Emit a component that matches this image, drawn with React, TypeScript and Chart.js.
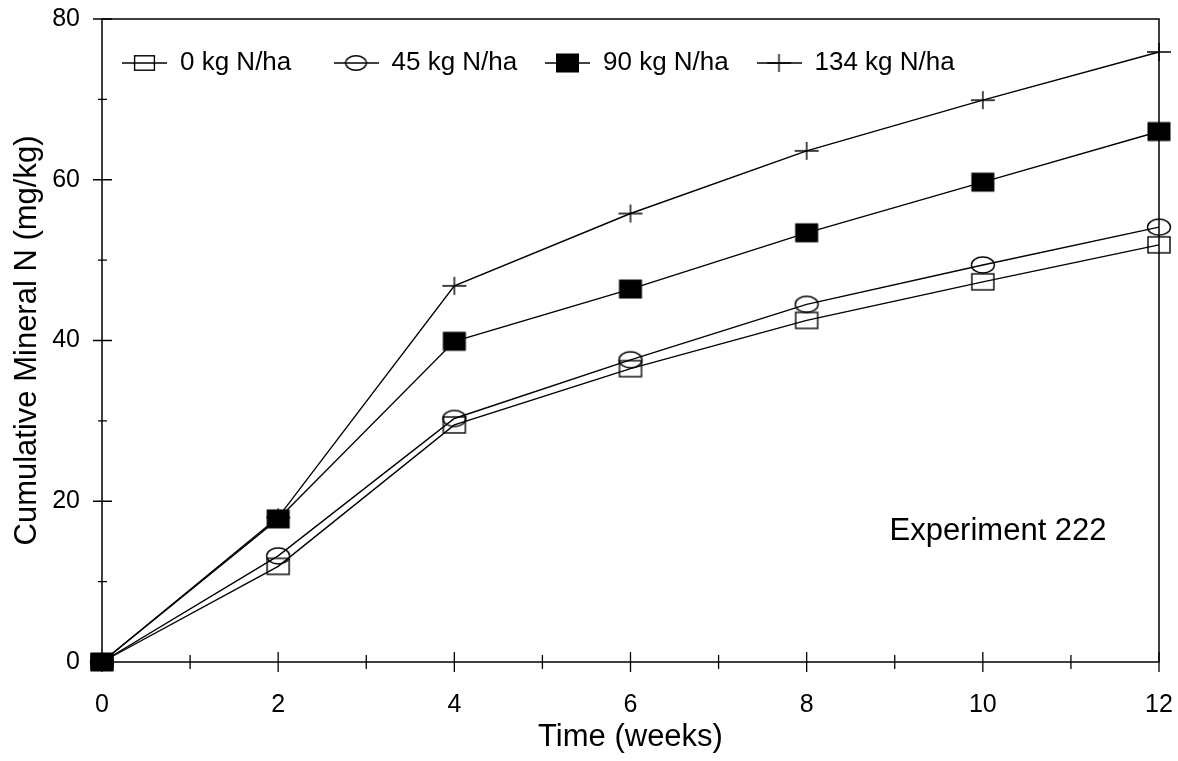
import { useEffect, useRef } from 'react';
import { Chart, registerables } from 'chart.js';

Chart.register(...registerables);

// ---- data ----
const weeks = [0, 2, 4, 6, 8, 10, 12];
const seriesLabels = ['0 kg N/ha', '45 kg N/ha', '90 kg N/ha', '134 kg N/ha'];
const n0 = [0, 11.9, 29.5, 36.5, 42.5, 47.3, 51.9];
const n45 = [0, 13.2, 30.3, 37.6, 44.5, 49.4, 54.1];
const n90 = [0, 17.8, 39.9, 46.4, 53.4, 59.7, 66.0];
const n134 = [0, 18.0, 46.8, 55.8, 63.6, 69.9, 75.9];
const xTitle = 'Time (weeks)';
const yTitle = 'Cumulative Mineral N (mg/kg)';
const annotationText = 'Experiment 222';

const FONT = "'Liberation Sans', Arial, Helvetica, sans-serif";
type Kind = 'openSquare' | 'openEllipse' | 'filledSquare' | 'plus';
const markerKinds: Kind[] = ['openSquare', 'openEllipse', 'filledSquare', 'plus'];

function makeMarker(kind: Kind, legendLen = 0): HTMLCanvasElement {
  const w = Math.max(legendLen, 28);
  const h = 24;
  const c = document.createElement('canvas');
  c.width = w;
  c.height = h;
  const ctx = c.getContext('2d')!;
  const cx = w / 2;
  const cy = h / 2;
  ctx.strokeStyle = '#000';
  ctx.fillStyle = '#000';
  ctx.lineWidth = 1.4;
  if (legendLen) {
    ctx.beginPath();
    ctx.moveTo(0, cy);
    ctx.lineTo(w, cy);
    ctx.stroke();
  }
  const s = legendLen ? 0.9 : 1;
  switch (kind) {
    case 'openSquare':
      ctx.strokeRect(cx - 11 * s, cy - 8 * s, 22 * s, 16 * s);
      break;
    case 'openEllipse':
      ctx.beginPath();
      ctx.ellipse(cx, cy, 11.5 * s, 8 * s, 0, 0, Math.PI * 2);
      ctx.stroke();
      break;
    case 'filledSquare':
      ctx.fillRect(cx - 11.5, cy - 9.5, 23, 19);
      break;
    case 'plus':
      ctx.beginPath();
      ctx.moveTo(cx - 12, cy);
      ctx.lineTo(cx + 12, cy);
      ctx.moveTo(cx, cy - 9);
      ctx.lineTo(cx, cy + 9);
      ctx.stroke();
      break;
  }
  return c;
}

export default function App() {
  const ref = useRef<HTMLCanvasElement>(null);

  useEffect(() => {
    const canvas = ref.current!;
    const pointImgs = markerKinds.map((k) => makeMarker(k));
    const legendImgs = markerKinds.map((k) => makeMarker(k, 45));
    const seriesValues = [n0, n45, n90, n134];

    const decorPlugin = {
      id: 'decor',
      afterDraw(chart: any) {
        const { ctx, chartArea: a, scales } = chart;
        const x = scales.x;
        const y = scales.y;
        ctx.save();
        ctx.strokeStyle = '#000';
        ctx.lineWidth = 1.5;
        ctx.strokeRect(a.left, a.top, a.right - a.left, a.bottom - a.top);

        // crossing ticks (major + minor)
        ctx.beginPath();
        const xt = x.ticks.map((t: any) => t.value);
        xt.forEach((v: number, i: number) => {
          const px = x.getPixelForValue(v);
          ctx.moveTo(px, a.bottom - 10);
          ctx.lineTo(px, a.bottom + 10);
          if (i < xt.length - 1) {
            const mx = x.getPixelForValue((v + xt[i + 1]) / 2);
            ctx.moveTo(mx, a.bottom - 7);
            ctx.lineTo(mx, a.bottom + 7);
          }
        });
        const yt = y.ticks.map((t: any) => t.value);
        yt.forEach((v: number, i: number) => {
          const py = y.getPixelForValue(v);
          ctx.moveTo(a.left - 9, py);
          ctx.lineTo(a.left + 10, py);
          if (i < yt.length - 1) {
            const my = y.getPixelForValue((v + yt[i + 1]) / 2);
            ctx.moveTo(a.left - 4, my);
            ctx.lineTo(a.left + 5, my);
          }
        });
        ctx.lineWidth = 1.3;
        ctx.stroke();

        // legend in fixed columns
        ctx.font = `26px ${FONT}`;
        ctx.fillStyle = '#000';
        ctx.textBaseline = 'middle';
        ctx.textAlign = 'left';
        const ly = a.top + 44;
        const colW = 211.5;
        chart.data.datasets.forEach((ds: any, i: number) => {
          const bx = a.left + 20 + i * colW;
          const img = legendImgs[i];
          ctx.drawImage(img, bx, ly - img.height / 2);
          ctx.fillText(ds.label, bx + img.width + 13, ly);
        });

        // annotation
        ctx.font = `31px ${FONT}`;
        ctx.fillText(annotationText, x.getPixelForValue(8.94), y.getPixelForValue(16.2));
        ctx.restore();
      },
    };

    const chart = new Chart(canvas, {
      type: 'line',
      data: {
        datasets: seriesLabels.map((label, i) => ({
          label,
          data: weeks.map((w, j) => ({ x: w, y: seriesValues[i][j] })),
          borderColor: '#000',
          backgroundColor: '#000',
          borderWidth: 1.4,
          pointStyle: pointImgs[i] as any,
          pointRadius: 1,
          pointHoverRadius: 1,
          pointBorderWidth: 0,
          tension: 0,
          fill: false,
          clip: false as any,
        })),
      },
      options: {
        responsive: false,
        animation: false,
        events: [],
        layout: { padding: { top: 19, right: 19, left: 0, bottom: 0 } },
        plugins: {
          legend: { display: false },
          tooltip: { enabled: false },
        },
        scales: {
          x: {
            type: 'linear',
            min: 0,
            max: 12,
            ticks: { stepSize: 2, color: '#000', font: { family: FONT, size: 25 }, padding: 18 },
            grid: { display: true, drawOnChartArea: false, color: 'rgba(0,0,0,0)', tickLength: 10 },
            border: { display: false },
            title: {
              display: true,
              text: xTitle,
              color: '#000',
              font: { family: FONT, size: 31, weight: 'normal' },
              padding: { top: 0, bottom: 5 },
            },
            afterFit: (s: any) => {
              s.height = 99;
              s.paddingLeft = 0;
              s.paddingRight = 0;
            },
          },
          y: {
            type: 'linear',
            min: 0,
            max: 80,
            ticks: { stepSize: 20, color: '#000', font: { family: FONT, size: 25 }, padding: 12 },
            grid: { display: true, drawOnChartArea: false, color: 'rgba(0,0,0,0)', tickLength: 10 },
            border: { display: false },
            title: {
              display: true,
              text: yTitle,
              color: '#000',
              font: { family: FONT, size: 31, weight: 'normal' },
              padding: { top: 9, bottom: 0 },
            },
            afterFit: (s: any) => {
              s.width = 102;
              s.paddingTop = 0;
              s.paddingBottom = 0;
            },
          },
        },
      },
      plugins: [decorPlugin],
    } as any);

    return () => chart.destroy();
  }, []);

  return (
    <canvas
      ref={ref}
      width={1178}
      height={761}
      style={{ position: 'fixed', left: 0, top: 0, width: 1178, height: 761, display: 'block', background: '#fff' }}
    />
  );
}
